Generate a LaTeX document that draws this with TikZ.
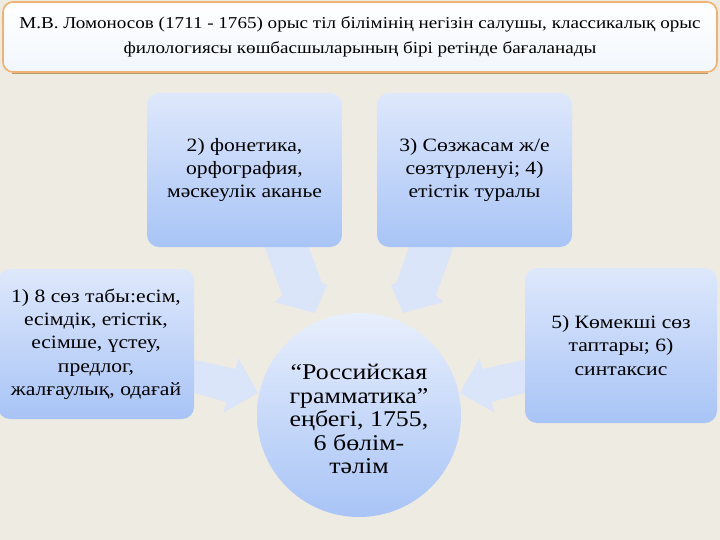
\documentclass[tikz,border=0pt]{standalone}
\usepackage{fontspec}
\setmainfont{Liberation Serif}[FakeStretch=1.15]
\definecolor{bg}{HTML}{EEEBE2}
\definecolor{boxtop}{HTML}{DEE8FC}
\definecolor{boxbot}{HTML}{A8C4F6}
\definecolor{arrfill}{HTML}{DBE5F9}
\definecolor{titleborder}{HTML}{EFB272}
\definecolor{titleshadow}{HTML}{B89C6E}
\definecolor{titlebot}{HTML}{F2F7FC}
\begin{document}
\begin{tikzpicture}[x=1pt,y=-1pt,
  box/.style={rounded corners=12pt, top color=boxtop, bottom color=boxbot, draw=none,
    minimum width=195pt, minimum height=154pt, align=center, text=black, inner sep=0pt,
    font=\fontsize{18.8}{23.3}\selectfont},
  hub/.style={circle, minimum size=204pt, top color=boxtop!70!white, bottom color=boxbot,
    draw=none, align=center, inner sep=0pt},
  hubtext/.style={align=center, inner sep=0pt, font=\fontsize{22.5}{23.5}\selectfont},
  blockarrow/.style={fill=arrfill, draw=none},
  titlebox/.style={rounded corners=10pt, draw=titleborder, line width=1.6pt,
    top color=white, bottom color=titlebot, minimum width=714pt, minimum height=70pt,
    align=center, inner sep=0pt, font=\fontsize{16.6}{25}\selectfont}
]
\useasboundingbox (0,0) rectangle (720,540);
\fill[bg] (0,0) rectangle (720,540);

% title
\node[titlebox] (t) at (360,37) {М.В. Ломоносов (1711 - 1765) орыс тіл білімінің негізін салушы, классикалық орыс\\
филологиясы көшбасшыларының бірі ретінде бағаланады};
\draw[titleshadow, line width=1.6pt] ([xshift=10pt,yshift=-0.8pt]t.south west) -- ([xshift=-10pt,yshift=-0.8pt]t.south east);

% arrows (behind boxes)
\fill[blockarrow] (264,245) -- (308,245) -- (322,283) -- (327,285) -- (315,313) -- (275,302) -- (282,295) -- cycle;
\fill[blockarrow] (454,245) -- (410,245) -- (396,283) -- (391,285) -- (403,313) -- (443,302) -- (436,295) -- cycle;
\fill[blockarrow] (190,359) -- (235.5,369) -- (238.5,358.5) -- (258,393) -- (223.5,412.5) -- (226.5,402) -- (190,392) -- cycle;
\fill[blockarrow] (528,359) -- (482.5,369) -- (479.5,358.5) -- (460,393) -- (494.5,412.5) -- (491.5,402) -- (528,392) -- cycle;

% boxes
\node[box] (b2) at (244.5,170) {2) фонетика,\\ орфография,\\ мәскеулік аканье};
\node[box] (b3) at (474.5,170) {3) Сөзжасам ж/е\\ сөзтүрленуі; 4)\\ етістік туралы};
\node[box, minimum width=196pt, minimum height=150pt] (b1) at (96,344) {1) 8 сөз табы:есім,\\ есімдік, етістік,\\ есімше, үстеу,\\ предлог,\\ жалғаулық, одағай};
\node[box, minimum width=192pt, minimum height=155pt] (b5) at (621,345.5) {5) Көмекші сөз\\ таптары; 6)\\ синтаксис};

% hub
\node[hub] (c) at (359,415) {};
\node[hubtext] (ct) at (359,419) {“Российская\\ грамматика”\\ еңбегі, 1755,\\ 6 бөлім-\\ тәлім};
\end{tikzpicture}
\end{document}
